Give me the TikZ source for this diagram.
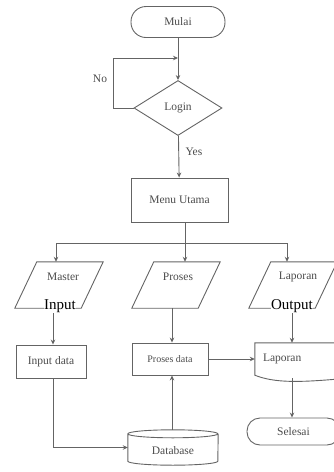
\documentclass[tikz,border=0pt]{standalone}
\usepackage{fontspec}
\setmainfont{Liberation Serif}
\usetikzlibrary{shapes.geometric,arrows.meta}
\definecolor{linegrey}{RGB}{100,100,100}
\definecolor{textgrey}{RGB}{75,75,75}
% outline of a data (input/output) parallelogram around a named node
\newcommand{\ioframe}[1]{%
  \draw[draw=linegrey, line width=0.9pt]
    ([xshift=-11pt]#1.south west) -- ([xshift=11pt]#1.north west)
    -- ([xshift=11pt]#1.north east) -- ([xshift=-11pt]#1.south east) -- cycle;}
\begin{document}
\begin{tikzpicture}[x=1pt,y=-1pt,
  every node/.style={font=\fontsize{11.5}{13}\selectfont, text=textgrey},
  shapeline/.style={draw=linegrey, line width=0.9pt},
  terminal/.style={shapeline, rectangle, rounded corners=13pt, inner sep=0pt},
  procbox/.style={shapeline, rectangle, inner sep=0pt},
  iobox/.style={rectangle, minimum width=66pt, minimum height=46pt, inner sep=0pt},
  flow/.style={draw=linegrey, line width=0.9pt, -{Stealth[length=5pt,width=4.5pt]}},
  link/.style={draw=linegrey, line width=0.9pt},
  ioname/.style={font=\fontsize{15}{17}\selectfont, text=black, fill=white, inner sep=0.6pt}
]
\useasboundingbox (0,0) rectangle (334,472);

% start, login and main menu
\node[terminal, minimum width=94pt, minimum height=31pt, rounded corners=15pt] (mulai) at (178,22) {Mulai};
\node[shapeline, diamond, aspect=1.6, minimum width=88pt, minimum height=55pt, inner sep=0pt] (login) at (178,108) {Login};
\node[procbox, minimum width=97pt, minimum height=44pt] (menu) at (179.5,200) {Menu Utama};
\coordinate (jtop) at (178,58);
\coordinate (bus) at (185,243);

% input / output parallelograms
\node[iobox] (master) at (59,285) {};
\node[iobox] (proses) at (176,285) {};
\node[iobox] (lapio) at (293,285) {};
\ioframe{master}
\ioframe{proses}
\ioframe{lapio}
\node (mastertxt) at (63,277) {Master};
\node (prosestxt) at (178,277) {Proses};
\node (lapiotxt) at (298,277) {Laporan};
\node[ioname] (inlabel) at (60,306) {Input};
\node[ioname] (outlabel) at (292,306) {Output};

% processing row
\node[procbox, minimum width=70pt, minimum height=33pt] (indata) at (51,361.5) {Input data};
\node[procbox, minimum width=76pt, minimum height=32pt, font=\fontsize{10}{12}\selectfont] (prosdata) at (170,359) {Proses data};
\node[rectangle, minimum width=81pt, minimum height=32pt, text width=65pt, align=left, inner xsep=8pt] (lapdoc) at (295.5,359) {Laporan};
\draw[shapeline] (lapdoc.north west) -- (lapdoc.south west)
  .. controls +(20,8) and +(-36,3) .. ([yshift=-4pt]lapdoc.south east)
  -- (lapdoc.north east) -- cycle;

% database cylinder
\node[rectangle, minimum width=90pt, minimum height=35pt, inner sep=0pt] (db) at (173,447.5) {};
\node (dbtext) at (173,451) {Database};
\draw[shapeline] ([yshift=-4pt]db.north west) arc[start angle=180, end angle=360, x radius=45pt, y radius=4pt]
  arc[start angle=0, end angle=180, x radius=45pt, y radius=4pt]
  -- ([yshift=4pt]db.south west) arc[start angle=180, end angle=360, x radius=45pt, y radius=4pt]
  -- ([yshift=-4pt]db.north east);

% end
\node[terminal, minimum width=93pt, minimum height=27pt] (selesai) at (293.5,431.5) {Selesai};

% column positions of the vertical connectors
\coordinate (xin) at (53,0);
\coordinate (xpro) at (172,0);
\coordinate (xlap) at (292,0);

% connectors
\draw[flow] (mulai) -- (login);
\draw[flow] (login.west) -- ++(-20,0) |- (jtop);
\node (no) at (100,79) {No};
\node[anchor=west] (yes) at (182,152) {Yes};
\draw[flow] (login) -- (menu);
\draw[link] (menu.south -| bus) -- (bus);
\draw[flow] (bus) -| ([xshift=-3pt]master.north);
\draw[flow] (bus) -- (proses.north -| bus);
\draw[flow] (bus) -| ([xshift=-6pt]lapio.north);
\draw[flow] (inlabel.south -| xin) -- (indata.north -| xin);
\draw[flow] (proses.south -| xpro) -- (prosdata.north -| xpro);
\draw[flow] (outlabel.south -| xlap) -- (lapdoc.north -| xlap);
\draw[flow] (prosdata.east) -- (lapdoc.west |- prosdata.east);
\draw[flow] (indata.south -| xin) |- (db.west);
\draw[flow] (db.north -| xpro) -- (prosdata.south -| xpro);
\draw[flow] ([yshift=-3pt]lapdoc.south -| xlap) -- (selesai.north -| xlap);
\end{tikzpicture}
\end{document}
